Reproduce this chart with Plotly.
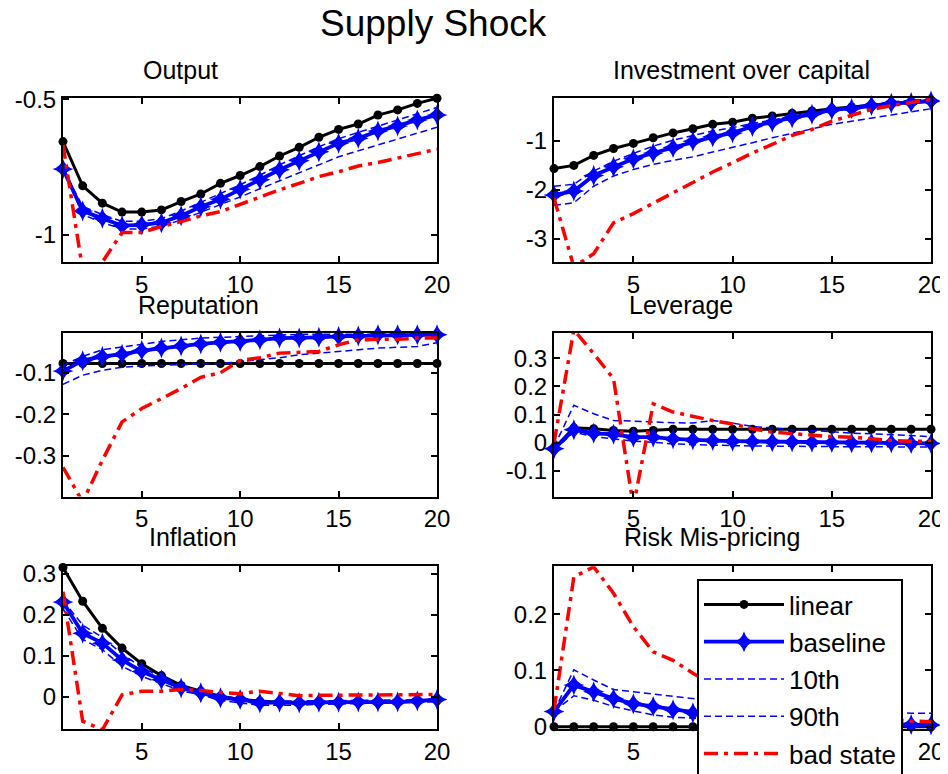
import plotly.graph_objects as go
from plotly.subplots import make_subplots

steps = list(range(1, 21))

# Output
output_linear = [-0.656, -0.819, -0.883, -0.916, -0.916, -0.908, -0.877, -0.849, -0.810, -0.781,
                 -0.748, -0.709, -0.677, -0.640, -0.611, -0.591, -0.558, -0.539, -0.515, -0.496]
output_baseline = [-0.757, -0.912, -0.939, -0.966, -0.963, -0.955, -0.929, -0.896, -0.869, -0.832,
                   -0.797, -0.760, -0.727, -0.693, -0.662, -0.644, -0.617, -0.598, -0.576, -0.558]
output_p10 = [-0.757, -0.925, -0.955, -0.978, -0.978, -0.968, -0.945, -0.917, -0.890, -0.860,
              -0.830, -0.800, -0.770, -0.742, -0.712, -0.690, -0.668, -0.648, -0.625, -0.603]
output_p90 = [-0.757, -0.895, -0.925, -0.950, -0.950, -0.940, -0.912, -0.880, -0.850, -0.815,
              -0.780, -0.742, -0.708, -0.675, -0.645, -0.622, -0.597, -0.576, -0.553, -0.530]
output_bad = [-0.668, -1.13, -1.10, -0.991, -0.991, -0.969, -0.951, -0.930, -0.914, -0.887,
              -0.862, -0.834, -0.810, -0.785, -0.767, -0.746, -0.733, -0.717, -0.701, -0.684]

# Investment over capital
invest_linear = [-1.57, -1.505, -1.30, -1.16, -1.055, -0.94, -0.84, -0.755, -0.665, -0.62,
                 -0.54, -0.495, -0.44, -0.39, -0.345, -0.31, -0.275, -0.235, -0.20, -0.175]
invest_baseline = [-2.11, -2.03, -1.71, -1.53, -1.37, -1.25, -1.14, -1.01, -0.92, -0.84,
                   -0.71, -0.62, -0.53, -0.46, -0.37, -0.34, -0.28, -0.235, -0.22, -0.19]
invest_p10 = [-2.32, -2.27, -1.93, -1.72, -1.59, -1.485, -1.40, -1.33, -1.23, -1.14,
              -1.04, -0.94, -0.85, -0.755, -0.665, -0.60, -0.53, -0.475, -0.41, -0.345]
invest_p90 = [-1.93, -1.89, -1.62, -1.42, -1.26, -1.11, -0.99, -0.89, -0.80, -0.73,
              -0.645, -0.58, -0.495, -0.43, -0.36, -0.30, -0.255, -0.21, -0.17, -0.155]
invest_bad = [-2.17, -3.58, -3.31, -2.68, -2.49, -2.28, -2.08, -1.85, -1.64, -1.45,
              -1.25, -1.075, -0.89, -0.77, -0.60, -0.48, -0.36, -0.28, -0.22, -0.155]

# Reputation
rep_linear = [-0.078] * 20
rep_baseline = [-0.096, -0.071, -0.061, -0.056, -0.047, -0.041, -0.036, -0.031, -0.027, -0.025,
                -0.021, -0.017, -0.017, -0.015, -0.013, -0.012, -0.009, -0.009, -0.009, -0.009]
rep_p10 = [-0.128, -0.106, -0.094, -0.087, -0.084, -0.082, -0.080, -0.079, -0.078, -0.073,
           -0.069, -0.064, -0.057, -0.053, -0.048, -0.044, -0.041, -0.039, -0.037, -0.028]
rep_p90 = [-0.082, -0.061, -0.045, -0.039, -0.032, -0.025, -0.021, -0.017, -0.015, -0.013,
           -0.012, -0.009, -0.008, -0.008, -0.008, -0.008, -0.008, -0.008, -0.008, -0.008]
rep_bad = [-0.327, -0.41, -0.31, -0.218, -0.186, -0.162, -0.138, -0.111, -0.100, -0.071,
           -0.064, -0.053, -0.052, -0.049, -0.033, -0.021, -0.020, -0.020, -0.017, -0.017]

# Leverage
lev_linear = [-0.021, 0.053, 0.050, 0.044, 0.041, 0.044, 0.048, 0.048, 0.048, 0.048,
              0.048, 0.048, 0.048, 0.048, 0.048, 0.048, 0.048, 0.048, 0.048, 0.048]
lev_baseline = [-0.021, 0.046, 0.034, 0.030, 0.020, 0.020, 0.014, 0.010, 0.008, 0.006,
                0.005, 0.004, 0.003, 0.002, 0.001, 0.000, 0.000, -0.001, -0.002, -0.002]
lev_p10 = [-0.027, 0.038, 0.022, 0.014, 0.006, 0.002, -0.004, -0.006, -0.009, -0.010,
           -0.011, -0.012, -0.012, -0.013, -0.013, -0.014, -0.014, -0.014, -0.015, -0.015]
lev_p90 = [-0.015, 0.133, 0.103, 0.079, 0.077, 0.073, 0.071, 0.070, 0.079, 0.070,
           0.058, 0.053, 0.046, 0.044, 0.038, 0.034, 0.032, 0.030, 0.026, 0.022]
lev_bad = [0.000, 0.40, 0.316, 0.227, -0.225, 0.138, 0.109, 0.093, 0.079, 0.067,
           0.050, 0.038, 0.032, 0.028, 0.022, 0.020, 0.014, 0.008, 0.006, 0.006]

# Inflation
infl_linear = [0.315, 0.233, 0.167, 0.119, 0.081, 0.052, 0.028, 0.014, 0.002, -0.006,
               -0.010, -0.013, -0.013, -0.013, -0.013, -0.013, -0.013, -0.012, -0.010, -0.008]
infl_baseline = [0.231, 0.155, 0.131, 0.090, 0.062, 0.042, 0.022, 0.010, -0.002, -0.006,
                 -0.015, -0.013, -0.015, -0.013, -0.013, -0.012, -0.012, -0.012, -0.010, -0.006]
infl_p10 = [0.215, 0.140, 0.115, 0.075, 0.050, 0.032, 0.015, 0.005, -0.008, -0.015,
            -0.020, -0.020, -0.020, -0.018, -0.017, -0.016, -0.015, -0.014, -0.013, -0.012]
infl_p90 = [0.235, 0.175, 0.145, 0.105, 0.072, 0.048, 0.028, 0.013, 0.002, -0.004,
            -0.010, -0.010, -0.010, -0.009, -0.009, -0.008, -0.008, -0.007, -0.007, -0.006]
infl_bad = [0.256, -0.059, -0.080, 0.005, 0.014, 0.014, 0.018, 0.016, 0.011, 0.008,
            0.014, 0.008, 0.003, 0.004, 0.004, 0.005, 0.005, 0.005, 0.006, 0.006]

# Risk mis-pricing
risk_linear = [0.0] * 20
risk_baseline = [0.027, 0.074, 0.062, 0.050, 0.041, 0.036, 0.030, 0.025, 0.021, 0.018,
                 0.015, 0.013, 0.011, 0.009, 0.008, 0.007, 0.006, 0.005, 0.004, 0.003]
risk_p10 = [0.027, 0.055, 0.047, 0.036, 0.028, 0.021, 0.017, 0.015, 0.013, 0.011,
            0.009, 0.008, 0.007, 0.006, 0.005, 0.004, 0.003, 0.002, 0.001, 0.000]
risk_p90 = [0.027, 0.101, 0.083, 0.066, 0.062, 0.058, 0.053, 0.049, 0.045, 0.042,
            0.040, 0.037, 0.035, 0.033, 0.031, 0.029, 0.028, 0.026, 0.024, 0.024]
risk_bad = [0.030, 0.266, 0.284, 0.237, 0.178, 0.133, 0.118, 0.095, 0.075, 0.060,
            0.048, 0.040, 0.033, 0.027, 0.022, 0.018, 0.015, 0.012, 0.010, 0.009]

panel_titles = ['Output', 'Investment over capital', 'Reputation', 'Leverage',
                'Inflation', 'Risk Mis-pricing']
panel_data = [
    (output_linear, output_baseline, output_p10, output_p90, output_bad),
    (invest_linear, invest_baseline, invest_p10, invest_p90, invest_bad),
    (rep_linear, rep_baseline, rep_p10, rep_p90, rep_bad),
    (lev_linear, lev_baseline, lev_p10, lev_p90, lev_bad),
    (infl_linear, infl_baseline, infl_p10, infl_p90, infl_bad),
    (risk_linear, risk_baseline, risk_p10, risk_p90, risk_bad),
]
y_ranges = [[-1.1, -0.494], [-3.48, -0.12], [-0.397, -0.004],
            [-0.19, 0.39], [-0.078, 0.318], [-0.004, 0.285]]
y_ticks = [[-1, -0.5], [-3, -2, -1], [-0.3, -0.2, -0.1],
           [-0.1, 0, 0.1, 0.2, 0.3], [0, 0.1, 0.2, 0.3], [0, 0.1, 0.2]]
y_ticktext = [['-1', '-0.5'], ['-3', '-2', '-1'], ['-0.3', '-0.2', '-0.1'],
              ['-0.1', '0', '0.1', '0.2', '0.3'], ['0', '0.1', '0.2', '0.3'], ['0', '0.1', '0.2']]

# the page body adds an 8px margin, so the figure is 8px smaller and positions shift by 8
OFF = 8
W, H = 948 - OFF, 774 - OFF
FONT = 'Arial, Liberation Sans, sans-serif'


def px_x(p):
    return (p - OFF) / W


def px_y(p):
    return 1 - (p - OFF) / H


# pixel boxes of each axes in the target picture
col_px = [(63, 437), (554, 931)]
row_px = [(97.7, 262), (332.7, 496.5), (566.3, 729)]
title_pos = [(180, 70), (741, 70), (198, 305), (681, 305), (193, 537), (712, 537)]

fig = make_subplots(rows=3, cols=2)

series_style = [
    dict(name='linear', mode='lines+markers', line=dict(color='black', width=3),
         marker=dict(symbol='circle', size=9, color='black')),
    dict(name='baseline', mode='lines+markers', line=dict(color='#0000ff', width=3.8),
         marker=dict(symbol='star-diamond', size=15, color='#0000ff')),
    dict(name='10th', mode='lines', line=dict(color='#0000ff', width=1.5, dash='7px,4px')),
    dict(name='90th', mode='lines', line=dict(color='#0000ff', width=1.5, dash='7px,4px')),
    dict(name='bad state', mode='lines', line=dict(color='#ff0000', width=3.5, dash='14px,6px,4px,6px')),
]

for i, series in enumerate(panel_data):
    r, c = i // 2 + 1, i % 2 + 1
    for j, vals in enumerate(series):
        st = series_style[j]
        fig.add_trace(go.Scatter(
            x=steps, y=vals, legendgroup=st['name'], showlegend=(i == 0),
            cliponaxis=False if j < 2 else True, **st
        ), row=r, col=c)

    xl, xr = col_px[c - 1]
    yt, yb = row_px[r - 1]
    fig.update_xaxes(domain=[px_x(xl), px_x(xr)], range=[1, 20], tickvals=[5, 10, 15, 20],
                     row=r, col=c)
    fig.update_yaxes(domain=[px_y(yb), px_y(yt)], range=y_ranges[i],
                     tickvals=y_ticks[i], ticktext=y_ticktext[i], row=r, col=c)
    tx, ty = title_pos[i]
    fig.add_annotation(text=panel_titles[i], x=px_x(tx), y=px_y(ty), xref='paper', yref='paper',
                       xanchor='center', yanchor='middle', showarrow=False,
                       font=dict(size=25, color='black', family=FONT))

fig.update_xaxes(showline=True, linecolor='black', linewidth=2, mirror='ticks', ticks='inside',
                 ticklen=6, tickwidth=1.5, tickcolor='black', showgrid=False, zeroline=False,
                 automargin=False, tickfont=dict(size=24, color='black', family=FONT))
fig.update_yaxes(showline=True, linecolor='black', linewidth=2, mirror='ticks', ticks='inside',
                 ticklen=6, tickwidth=1.5, tickcolor='black', showgrid=False, zeroline=False,
                 automargin=False, tickfont=dict(size=24, color='black', family=FONT))

fig.add_annotation(text='Supply Shock', x=px_x(433), y=px_y(23), xref='paper', yref='paper',
                   xanchor='center', yanchor='middle', showarrow=False,
                   font=dict(size=37, color='black', family=FONT))

fig.update_layout(
    width=W, height=H,
    margin=dict(l=0, r=0, t=0, b=0, autoexpand=False),
    paper_bgcolor='white', plot_bgcolor='white',
    font=dict(family=FONT, color='black'),
    legend=dict(x=px_x(697), y=px_y(579), xanchor='left', yanchor='top',
                xref='container', yref='container',
                bgcolor='white', bordercolor='black', borderwidth=2,
                font=dict(size=26, color='black', family=FONT),
                itemwidth=80, tracegroupgap=0.5, entrywidth=212),
)

fig.write_html("out.html")
